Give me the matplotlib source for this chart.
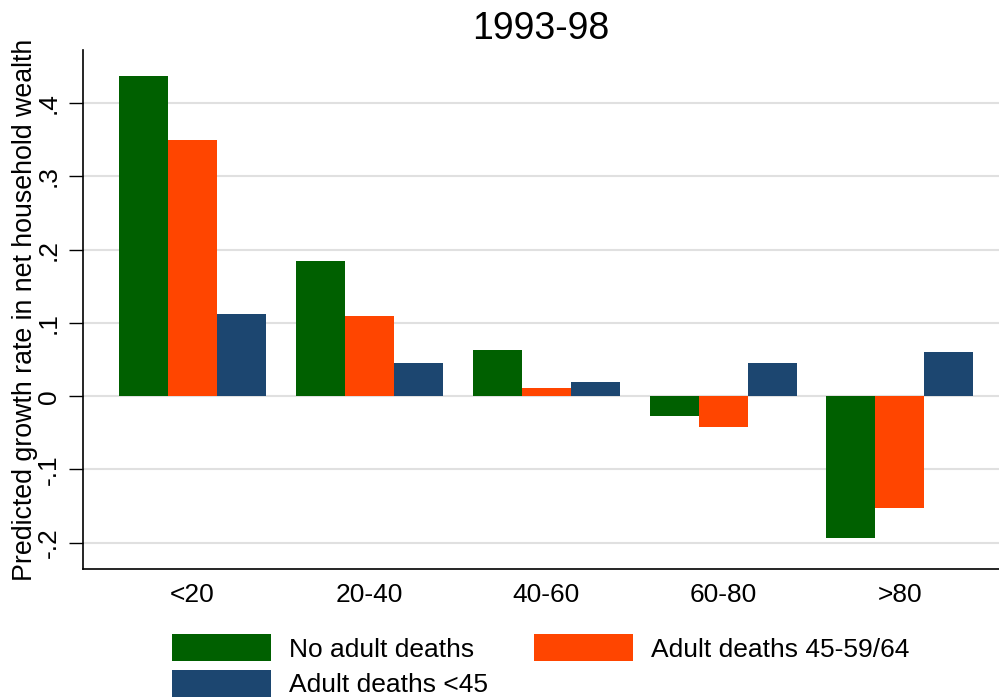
import numpy as np
import matplotlib
matplotlib.use("Agg")
import matplotlib.pyplot as plt

plt.rcParams["font.family"] = ["Liberation Sans", "DejaVu Sans"]

categories = ["<20", "20-40", "40-60", "60-80", ">80"]
series_names = ["No adult deaths", "Adult deaths 45-59/64", "Adult deaths <45"]
no_deaths = [0.437, 0.184, 0.063, -0.027, -0.194]
deaths_45_64 = [0.350, 0.109, 0.011, -0.042, -0.152]
deaths_u45 = [0.112, 0.046, 0.020, 0.046, 0.060]
yticks = [-0.2, -0.1, 0.0, 0.1, 0.2, 0.3, 0.4]
ytick_labels = ["-.2", "-.1", "0", ".1", ".2", ".3", ".4"]

colors = ["#006000", "#ff4500", "#1c4670"]

fig = plt.figure(figsize=(9.99, 7.0), dpi=100)
ax = fig.add_axes([0.083, 0.187, 0.917, 0.742])

x = np.arange(len(categories))
w = 0.277
handles = []
for i, (vals, name) in enumerate(zip([no_deaths, deaths_45_64, deaths_u45], series_names)):
    b = ax.bar(x + (i - 1) * w, vals, width=w, color=colors[i], label=name, zorder=3)
    handles.append(b)

ax.set_xlim(-0.619, 4.56)
ax.set_ylim(-0.236, 0.473)
ax.set_xticks(x)
ax.set_xticklabels(categories, fontsize=19)
ax.tick_params(axis="x", length=0, pad=10)
ax.set_yticks(yticks)
ax.set_yticklabels(ytick_labels, fontsize=19, rotation=90, va="center")
ax.tick_params(axis="y", length=10, width=1, pad=6)
ax.grid(axis="y", color="#e0e0e0", linewidth=1.5, zorder=0)
for s in ["top", "right"]:
    ax.spines[s].set_visible(False)
ax.spines["left"].set_linewidth(1.2)
ax.spines["bottom"].set_linewidth(1.2)

ax.set_ylabel("Predicted growth rate in net household wealth", fontsize=19.3)
ax.yaxis.set_label_coords(-0.049, 0.5)
ax.set_title("1993-98", fontsize=27, pad=8)

# row-major order: legend fills columns first
order = [0, 2, 1]
fig.legend([handles[i] for i in order], [series_names[i] for i in order],
           loc="lower left", bbox_to_anchor=(0.156, -0.019), ncol=2, frameon=False,
           fontsize=19, handlelength=3.75, handleheight=1.2, columnspacing=1.75,
           handletextpad=0.68, labelspacing=0.32, borderpad=0.1)

fig.savefig("out.png", dpi=100)
